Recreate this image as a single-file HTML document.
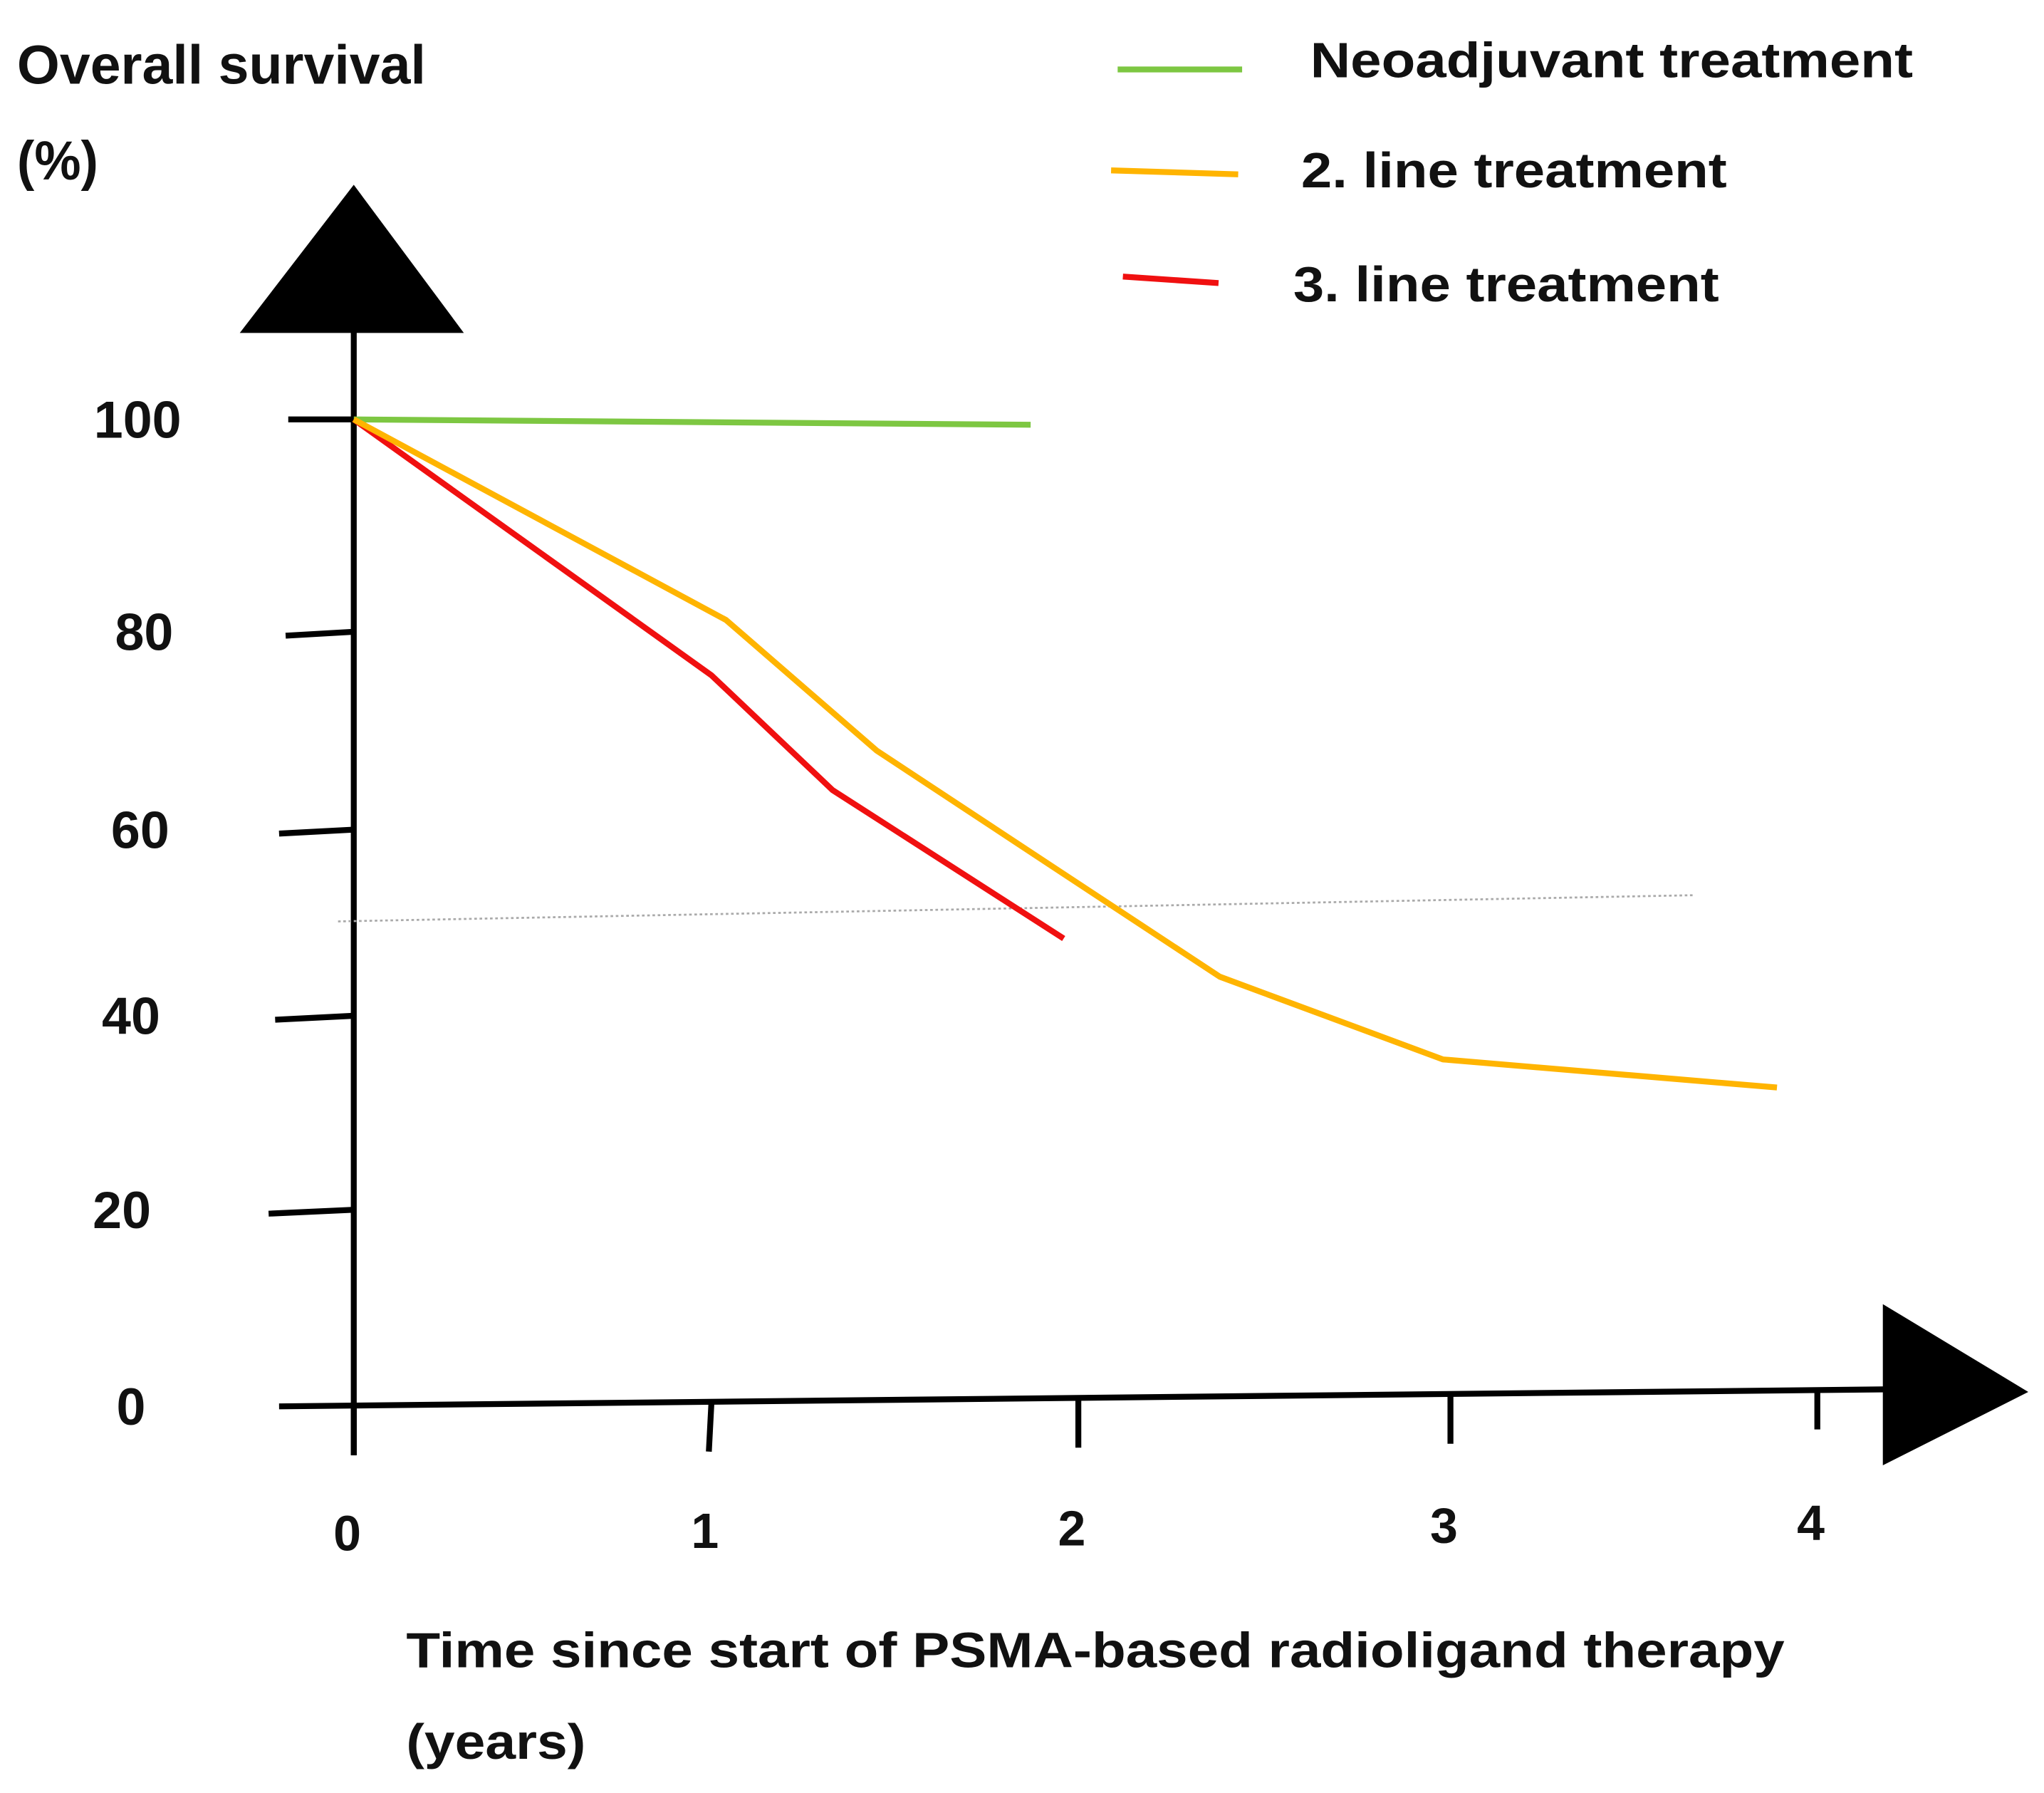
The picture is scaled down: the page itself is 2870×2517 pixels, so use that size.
<!DOCTYPE html>
<html><head><meta charset="utf-8"><style>
html,body{margin:0;padding:0;background:#fff;}
svg{display:block;}
text{font-family:"Liberation Sans",Arial,sans-serif;font-weight:bold;fill:#111;}
</style></head><body>
<svg id="chart" width="2870" height="2517" viewBox="0 0 1560 1368" preserveAspectRatio="none" xmlns="http://www.w3.org/2000/svg">
<rect width="1560" height="1368" fill="#fff"/>
<text x="13" y="64" font-size="42" textLength="312" lengthAdjust="spacingAndGlyphs">Overall survival</text>
<text x="13" y="137" font-size="42" textLength="62" lengthAdjust="spacingAndGlyphs">(%)</text>
<polygon points="270,141 183,254 354,254" fill="#000"/>
<line x1="270" y1="252" x2="270" y2="1110" stroke="#000" stroke-width="4.5"/>
<line x1="213" y1="1073" x2="1442" y2="1060" stroke="#000" stroke-width="4.5"/>
<polygon points="1437,995 1548,1062 1437,1118" fill="#000"/>
<line x1="258" y1="703" x2="1293" y2="683" stroke="#aaa" stroke-width="1.5" stroke-dasharray="2,2"/>
<g id="ticks"></g>
<g id="series"></g>
<g>
<line x1="853" y1="53" x2="948" y2="53" stroke="#7dc742" stroke-width="4.5"/>
<text x="1000" y="59" font-size="38" textLength="460" lengthAdjust="spacingAndGlyphs">Neoadjuvant treatment</text>
<line x1="848" y1="130" x2="945" y2="133" stroke="#ffb400" stroke-width="4.5"/>
<text x="993" y="143" font-size="38" textLength="325" lengthAdjust="spacingAndGlyphs">2. line treatment</text>
<line x1="857" y1="211" x2="930" y2="216" stroke="#f01010" stroke-width="4.5"/>
<text x="987" y="230" font-size="38" textLength="325" lengthAdjust="spacingAndGlyphs">3. line treatment</text>
</g>
<text x="310" y="1272" font-size="38" textLength="1052" lengthAdjust="spacingAndGlyphs">Time since start of PSMA-based radioligand therapy</text>
<text x="310" y="1342" font-size="38" textLength="137" lengthAdjust="spacingAndGlyphs">(years)</text>
</svg>
<script>
const yTickValues = [100, 80, 60, 40, 20, 0];
const yTickLabels = ["100", "80", "60", "40", "20", "0"];
const xTickValues = [0, 1, 2, 3, 4];
const xTickLabels = ["0", "1", "2", "3", "4"];
const neoX = [0, 1.87];
const neoY = [100, 99.5];
const line2X = [0, 1.04, 1.45, 1.95, 2.38, 2.98, 3.89];
const line2Y = [100, 81.1, 68, 55.5, 44.2, 35.5, 32.6];
const line3X = [0, 1.0, 1.33, 1.96];
const line3Y = [100, 75.6, 64, 48.3];

// hand-drawn axis: tick positions are uneven, so map piecewise through tick anchors
const yAnchorPx = [320, 482, 633, 775, 923, 1073];
const xAnchorPx = [270, 543, 823, 1107, 1387];
function interp(v, vals, px) {
  for (let i = 0; i < vals.length - 1; i++) {
    const a = vals[i], b = vals[i + 1];
    if ((v - a) * (v - b) <= 0) return px[i] + (v - a) / (b - a) * (px[i + 1] - px[i]);
  }
  const n = vals.length;
  return px[n - 2] + (v - vals[n - 2]) / (vals[n - 1] - vals[n - 2]) * (px[n - 1] - px[n - 2]);
}
function yScale(v) { return interp(v, yTickValues, yAnchorPx); }
function xScale(v) { return interp(v, xTickValues, xAnchorPx); }
function xAxisY(x) { return 1073 - (x - 213) * 13 / 1229; }

const NS = "http://www.w3.org/2000/svg";
const ticks = document.getElementById("ticks");
const yTickLeft = [220, 218, 213, 210, 205, 213];
const yLabelCenter = [105, 110, 107, 100, 93, 100];
yTickValues.forEach((v, i) => {
  const y = yScale(v);
  if (v !== 0) {
    const l = document.createElementNS(NS, "line");
    l.setAttribute("x1", yTickLeft[i]); l.setAttribute("y1", y + (i > 0 ? 3 : 0));
    l.setAttribute("x2", 270); l.setAttribute("y2", y);
    l.setAttribute("stroke", "#000"); l.setAttribute("stroke-width", "4.5");
    
    
    ticks.appendChild(l);
  }
  const t = document.createElementNS(NS, "text");
  t.setAttribute("x", yLabelCenter[i]); t.setAttribute("y", y + 14);
  t.setAttribute("font-size", "40"); t.setAttribute("text-anchor", "middle");
  t.textContent = yTickLabels[i];
  
  
  ticks.appendChild(t);
});
xTickValues.forEach((v, i) => {
  const x = xScale(v);
  const ya = xAxisY(x);
  const l = document.createElementNS(NS, "line");
  l.setAttribute("x1", x); l.setAttribute("y1", ya);
  l.setAttribute("x2", x - (i === 1 ? 2 : 0)); l.setAttribute("y2", ya + (i === 4 ? 30 : 38));
  l.setAttribute("stroke", "#000"); l.setAttribute("stroke-width", "4.5");
  
  
  ticks.appendChild(l);
  const t = document.createElementNS(NS, "text");
  t.setAttribute("x", x - 5); t.setAttribute("y", 1183 - i * 2);
  t.setAttribute("font-size", "38"); t.setAttribute("text-anchor", "middle");
  t.textContent = xTickLabels[i];
  
  
  ticks.appendChild(t);
});

const series = document.getElementById("series");
function drawLine(xs, ys, color, name) {
  const p = document.createElementNS(NS, "polyline");
  p.setAttribute("points", xs.map((x, i) => xScale(x) + "," + yScale(ys[i])).join(" "));
  p.setAttribute("fill", "none"); p.setAttribute("stroke", color);
  p.setAttribute("stroke-width", "4.5"); p.setAttribute("stroke-linejoin", "round");
  
  
  series.appendChild(p);
}
drawLine(neoX, neoY, "#7dc742", "neoadjuvant-line");
drawLine(line3X, line3Y, "#f01010", "third-line-treatment-line");
drawLine(line2X, line2Y, "#ffb400", "second-line-treatment-line");
</script>
</body></html>
